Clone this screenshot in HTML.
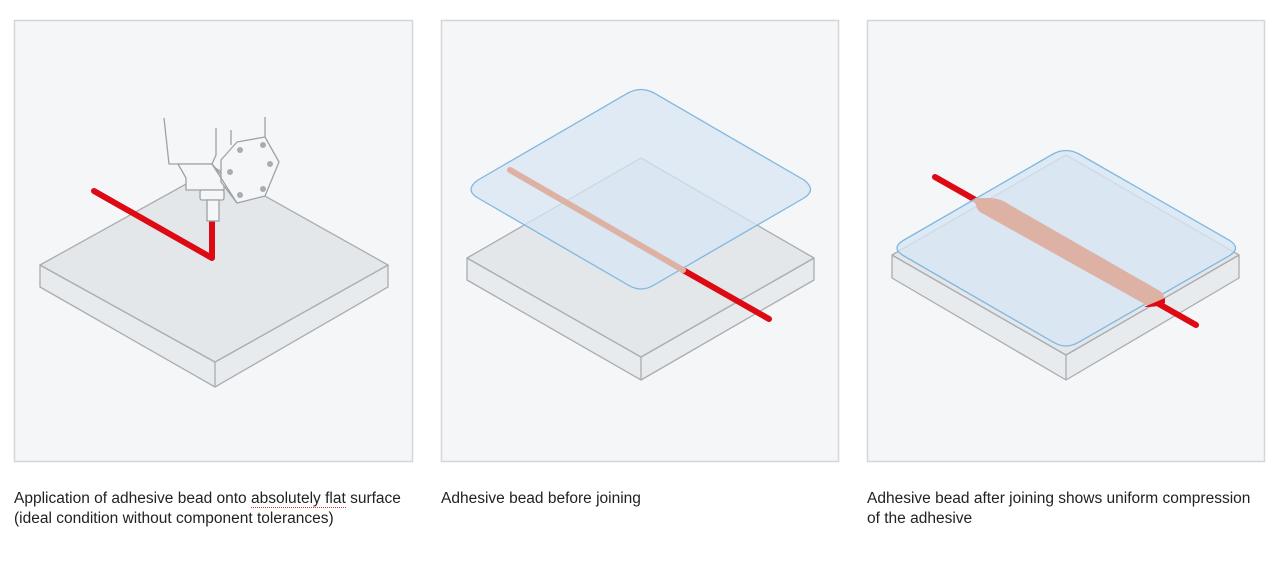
<!DOCTYPE html>
<html><head><style>
body{margin:0;background:#fff;width:1280px;height:562px;overflow:hidden;font-family:"Liberation Sans",sans-serif}
.t{position:absolute;font-size:15.5px;line-height:20px;color:#222;top:489px}
</style></head><body>
<svg width="1280" height="562" style="position:absolute;left:0;top:0">
<g fill="#f5f6f8" stroke="#d3d6da" stroke-width="1.5">
<rect x="14.5" y="20.5" width="398" height="441"/>
<rect x="441.5" y="20.5" width="397" height="441"/>
<rect x="867.5" y="20.5" width="397" height="441"/>
</g>
<g stroke="#a9adb1" stroke-width="1.3" stroke-linejoin="round">
<path d="M40,265 L40,287 L215,387 L388,287 L388,265 L215,362 Z" fill="#e8ebed"/>
<path d="M40,265 L215,168 L388,265 L215,362 Z" fill="#e3e7ea"/>
<line x1="215" y1="362" x2="215" y2="387"/>
<path d="M467,258 L467,280 L641,380 L814,280 L814,258 L641,357 Z" fill="#e8ebed"/>
<path d="M467,258 L641,158 L814,258 L641,357 Z" fill="#e3e7ea"/>
<line x1="641" y1="357" x2="641" y2="380"/>
<path d="M892,255 L892,278 L1066,380 L1239,278 L1239,255 L1066,355 Z" fill="#e8ebed"/>
<path d="M892,255 L1066,155 L1239,255 L1066,355 Z" fill="#e3e7ea"/>
<line x1="1066" y1="355" x2="1066" y2="380"/>
</g>
<polyline points="94,191 212,258 212,222" fill="none" stroke="#dd0a14" stroke-width="6" stroke-linecap="round" stroke-linejoin="round"/>
<g fill="#f5f6f8" stroke="#9ea2a6" stroke-width="1.3" stroke-linejoin="round">
<path d="M164,118 L169,164 L212,164 L216,155 L216,128"/>
<path d="M178,164 L186,178 L186,190 L224,190 L224,178 L212,164 Z"/>
<rect x="200" y="190" width="24" height="10" rx="2"/>
<rect x="207" y="200" width="12" height="21"/>
<path d="M231,130 L231,145 M265,117 L265,137"/>
<path d="M237,142 L265,137 L279,162 L265,196 L237,203 L221,182 L221,160 Z"/>
<path d="M212,164 L237,203"/>
</g>
<g fill="#a9adb1"><circle cx="240" cy="150" r="3"/><circle cx="263" cy="145" r="3"/><circle cx="270" cy="164" r="3"/><circle cx="263" cy="189" r="3"/><circle cx="240" cy="195" r="3"/><circle cx="230" cy="172" r="3"/></g>
<line x1="683" y1="270" x2="769" y2="319" stroke="#dd0a14" stroke-width="6" stroke-linecap="round"/>
<path d="M478,180 L628,93 Q641,86 654,93 L804,180 Q817,190 804,198 L654,285 Q641,293 628,285 L478,198 Q464,190 478,180 Z" fill="#d7e6f3" fill-opacity="0.75" stroke="#7fb8e0" stroke-width="1.3"/>
<line x1="510" y1="170" x2="683" y2="270" stroke="#deb1a5" stroke-width="6" stroke-linecap="round"/>
<line x1="935" y1="177" x2="1196" y2="325" stroke="#dd0a14" stroke-width="6" stroke-linecap="round"/>
<path d="M904,240 L1053,154 Q1066,147 1079,154 L1229,240 Q1242,248 1229,256 L1079,342 Q1066,350 1053,342 L904,256 Q890,248 904,240 Z" fill="#d7e6f3" fill-opacity="0.8" stroke="#7fb8e0" stroke-width="1.3"/>
<path d="M975,198 L990,198 Q1000,198 1010,205 L1160,291 Q1168,297 1160,302 L1148,306 L980,212 Q975,208 975,198 Z" fill="#deb1a5"/>
<path d="M1144,307 L1165,298 L1165,303 Q1160,307 1144,307 Z" fill="#dd0a14"/>
</svg>
<div class="t" style="left:14px">Application of adhesive bead onto <span style="border-bottom:1px dotted #c33">absolutely flat</span> surface<br>(ideal condition without component tolerances)</div>
<div class="t" style="left:441px">Adhesive bead before joining</div>
<div class="t" style="left:867px">Adhesive bead after joining shows uniform compression<br>of the adhesive</div>
</body></html>
